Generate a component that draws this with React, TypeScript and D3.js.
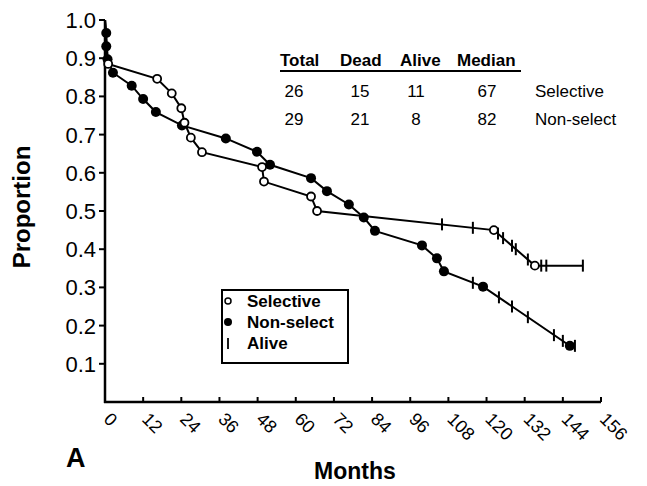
import React from 'react'
import * as d3 from 'd3'

// Kaplan-Meier style curves: [months, proportion]
const selectivePts: [number, number][] = [
  [0, 1.0], [1, 0.885], [16.4, 0.846], [21, 0.808], [24, 0.769], [25, 0.731],
  [27, 0.692], [30.5, 0.654], [49.4, 0.615], [50, 0.577], [64.8, 0.538],
  [66.7, 0.5], [122.3, 0.45], [135.2, 0.357], [150.3, 0.357]
]
const selectiveDeaths: [number, number][] = selectivePts.slice(1, 14)
const selectiveAlive: [number, number][] = [
  [106, 0.465], [115.7, 0.456], [123.6, 0.441], [125.2, 0.429], [128, 0.409],
  [129.2, 0.4], [133, 0.373], [137.2, 0.357], [138.8, 0.357], [150.3, 0.357]
]

const nonSelectPts: [number, number][] = [
  [0, 1.0], [0.4, 0.966], [0.4, 0.931], [0.8, 0.897], [2.5, 0.862], [8.4, 0.828],
  [12, 0.793], [16, 0.759], [24.2, 0.724], [38, 0.69], [47.8, 0.655],
  [51.9, 0.621], [64.8, 0.586], [69.8, 0.552], [76.7, 0.517], [81.4, 0.483],
  [84.9, 0.448], [99.7, 0.41], [104.4, 0.376], [106.6, 0.342], [118.9, 0.302],
  [146.2, 0.147], [147.8, 0.147]
]
const nonSelectDeaths: [number, number][] = nonSelectPts.slice(1, 22)
const nonSelectAlive: [number, number][] = [
  [115.7, 0.312], [123.9, 0.274], [128, 0.25], [133, 0.222], [141.2, 0.175],
  [144, 0.16], [147.8, 0.147]
]

const xTicks = d3.range(0, 157, 12)
const yTicks = [0.1, 0.2, 0.3, 0.4, 0.5, 0.6, 0.7, 0.8, 0.9, 1.0]

const tableHeader = ['Total', 'Dead', 'Alive', 'Median']
const tableRows = [
  { name: 'Selective', values: ['26', '15', '11', '67'] },
  { name: 'Non-select', values: ['29', '21', '8', '82'] }
]

const font = '"Liberation Sans", Arial, Helvetica, sans-serif'

export default function App() {
  const width = 647
  const height = 486
  const x = d3.scaleLinear().domain([0, 156]).range([105, 601])
  const y = d3.scaleLinear().domain([0, 1]).range([402, 20])

  const line = d3
    .line<[number, number]>()
    .x((d) => x(d[0]))
    .y((d) => y(d[1]))

  // column centres for the table numbers / header words
  const headerX = [280, 340, 400, 457]
  const valueX = [294, 360, 416, 487]
  const rowY = [97, 125]

  return (
    <div style={{ position: 'absolute', left: 0, top: 0 }}>
      <svg width={width} height={height} style={{ background: '#fff', display: 'block' }} fontFamily={font}>
        {/* axes */}
        <line x1={x(0)} x2={x(0)} y1={y(0) + 1} y2={y(1)} stroke="#000" strokeWidth={2.5} />
        <line x1={x(0) - 1} x2={x(156)} y1={y(0)} y2={y(0)} stroke="#000" strokeWidth={2.5} />
        {yTicks.map((t) => (
          <g key={t}>
            <line x1={x(0) - 6} x2={x(0)} y1={y(t)} y2={y(t)} stroke="#000" strokeWidth={2} />
            <text x={x(0) - 9} y={y(t)} dy="0.36em" textAnchor="end" fontSize={22}>
              {t.toFixed(1)}
            </text>
          </g>
        ))}
        {xTicks.map((t) => (
          <g key={t}>
            <line x1={x(t)} x2={x(t)} y1={y(0)} y2={y(0) - 5} stroke="#000" strokeWidth={2} />
            <text
              transform={`translate(${x(t) + 2},${y(0) + 14}) rotate(45)`}
              dominantBaseline="central"
              fontSize={18}
            >
              {t}
            </text>
          </g>
        ))}

        {/* curves */}
        <path d={line(selectivePts) ?? ''} fill="none" stroke="#000" strokeWidth={2} />
        <path d={line(nonSelectPts) ?? ''} fill="none" stroke="#000" strokeWidth={2} />

        {selectiveAlive.concat(nonSelectAlive).map((d, i) => (
          <line key={'a' + i} x1={x(d[0])} x2={x(d[0])} y1={y(d[1]) - 6} y2={y(d[1]) + 6} stroke="#000" strokeWidth={2} />
        ))}
        {nonSelectDeaths.map((d, i) => (
          <circle key={'n' + i} cx={x(d[0])} cy={y(d[1])} r={5} fill="#000" />
        ))}
        {selectiveDeaths.map((d, i) => (
          <circle key={'s' + i} cx={x(d[0])} cy={y(d[1])} r={4} fill="#fff" stroke="#000" strokeWidth={1.8} />
        ))}

        {/* table */}
        {tableHeader.map((h, i) => (
          <text key={h} x={headerX[i]} y={66} fontSize={17} fontWeight="bold">
            {h}
          </text>
        ))}
        <line x1={280} x2={521} y1={71} y2={71} stroke="#000" strokeWidth={2} />
        {tableRows.map((r, ri) => (
          <g key={r.name}>
            {r.values.map((v, vi) => (
              <text key={vi} x={valueX[vi]} y={rowY[ri]} fontSize={17} textAnchor="middle">
                {v}
              </text>
            ))}
            <text x={535} y={rowY[ri]} fontSize={17}>
              {r.name}
            </text>
          </g>
        ))}

        {/* legend */}
        <rect x={222} y={290} width={126} height={73} fill="#fff" stroke="#000" strokeWidth={2} />
        <circle cx={228} cy={301} r={3} fill="#fff" stroke="#000" strokeWidth={1.5} />
        <circle cx={228} cy={322} r={4} fill="#000" />
        <line x1={228} x2={228} y1={338} y2={349} stroke="#000" strokeWidth={1.8} />
        {['Selective', 'Non-select', 'Alive'].map((s, i) => (
          <text key={s} x={247} y={301 + i * 21} dy="0.36em" fontSize={17} fontWeight="bold">
            {s}
          </text>
        ))}

        {/* titles */}
        <text
          transform={`translate(30,207) rotate(-90)`}
          textAnchor="middle"
          fontSize={24}
          fontWeight="bold"
        >
          Proportion
        </text>
        <text x={355} y={479} textAnchor="middle" fontSize={23} fontWeight="bold">
          Months
        </text>
        <text x={66} y={467} fontSize={27} fontWeight="bold">
          A
        </text>
      </svg>
    </div>
  )
}
